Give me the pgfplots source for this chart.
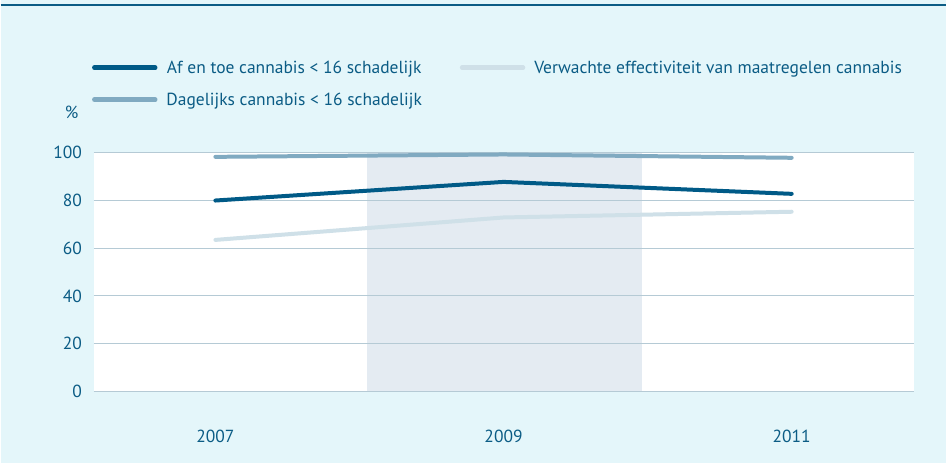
\documentclass[border=0pt]{standalone}
\usepackage{pgfplots}
\pgfplotsset{compat=1.18}
\usepackage{fontspec}
\setmainfont{PT Sans}
\definecolor{bg}{HTML}{E4F6FA}
\definecolor{topline}{HTML}{0B5C85}
\definecolor{txt}{HTML}{0B5C85}
\definecolor{dark}{HTML}{005A87}
\definecolor{mid}{HTML}{80AAC1}
\definecolor{light}{HTML}{CFE0E8}
\definecolor{band}{HTML}{E4EBF2}
\definecolor{gridc}{HTML}{B5CAD5}
\pgfplotsset{layers/mine/.define layer set={bgbg,axis background,axis grid,axis ticks,axis lines,axis tick labels,pre main,main,axis descriptions,axis foreground}{/pgfplots/layers/standard}}
\begin{document}
\begin{tikzpicture}[x=1pt,y=1pt]
\begin{axis}[
  set layers=mine,
  at={(93pt,72pt)}, anchor=south west,
  scale only axis, width=822pt, height=239pt,
  xmin=-0.423, xmax=2.426, ymin=0, ymax=100,
  axis line style={draw=none},
  axis background/.style={fill=white},
  major tick length=0pt,
  xtick={0,1,2}, xticklabels={2007,2009,2011},
  ytick={0,20,40,60,80,100},
  ymajorgrids, grid style={gridc, line width=1pt},
  tick label style={text=txt, font=\fontsize{17.5}{20}\selectfont},
  /pgf/number format/assume math mode=true,
  xticklabel style={yshift=-35pt},
  yticklabel style={xshift=-8pt},
  legend style={at={(-0.002,1.395)}, anchor=north west, draw=none, fill=none,
    inner sep=0pt, row sep=14pt, font=\fontsize{17.5}{20}\selectfont, text=txt,
    /tikz/every even column/.append style={column sep=29pt},
    nodes={inner xsep=9pt}},
  legend columns=2,
  legend image code/.code={\draw[#1, line width=4.5pt, line cap=round] (1pt,0pt) -- (62pt,0pt);},
]
\begin{pgfonlayer}{bgbg}
\fill[bg] (rel axis cs:-0.1132,-0.3013) rectangle (rel axis cs:1.0390,1.6402);
\end{pgfonlayer}
\addplot[on layer=axis background, fill=band, draw=none, forget plot] coordinates {(0.527,0) (0.527,100) (1.48,100) (1.48,0)} \closedcycle;
\addlegendimage{dark}
\addlegendentry{Af en toe cannabis < 16 schadelijk}
\addlegendimage{light}
\addlegendentry{Verwachte effectiviteit van maatregelen cannabis}
\addlegendimage{mid}
\addlegendentry{Dagelijks cannabis < 16 schadelijk}
\addplot[light, line width=4pt, line cap=round, forget plot] coordinates {(0,63.5) (1,72.9) (2,75.3)};
\addplot[mid, line width=4pt, line cap=round, forget plot] coordinates {(0,98.3) (1,99.3) (2,97.9)};
\addplot[dark, line width=4pt, line cap=round, forget plot] coordinates {(0,80.0) (1,87.8) (2,82.8)};
\end{axis}
\draw[topline, line width=1.3pt] (0,459) -- (947,459);
\node[text=txt, font=\fontsize{17.5}{20}\selectfont] at (71,351) {\%};
\path[use as bounding box] (0,0) rectangle (947,464);
\end{tikzpicture}
\end{document}
